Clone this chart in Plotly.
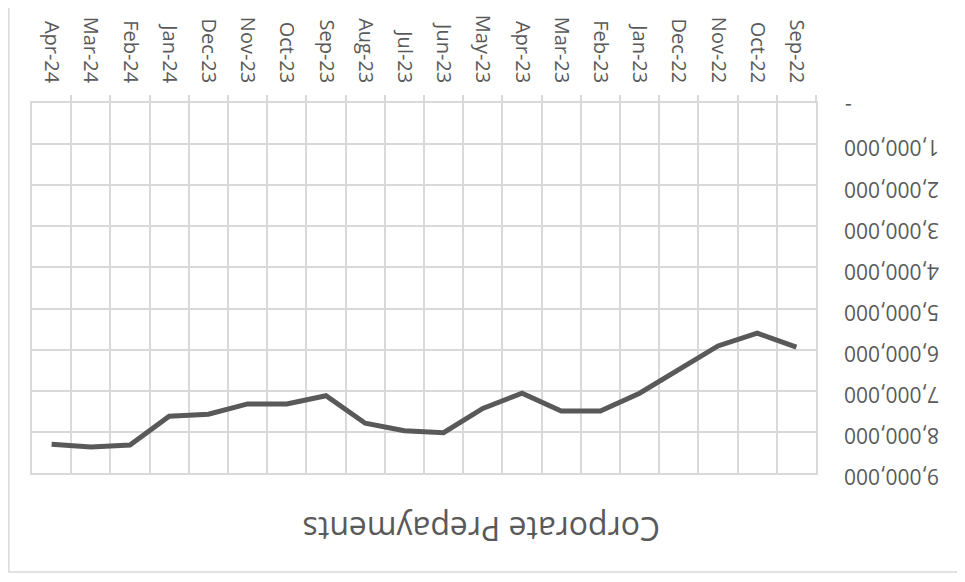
import plotly.graph_objects as go

months = ["Sep-22", "Oct-22", "Nov-22", "Dec-22", "Jan-23", "Feb-23", "Mar-23", "Apr-23",
          "May-23", "Jun-23", "Jul-23", "Aug-23", "Sep-23", "Oct-23", "Nov-23", "Dec-23",
          "Jan-24", "Feb-24", "Mar-24", "Apr-24"]
prepayments = [5940000, 5600000, 5910000, 6500000, 7060000, 7490000, 7490000, 7060000,
               7430000, 8020000, 7970000, 7790000, 7120000, 7320000, 7320000, 7570000,
               7620000, 8320000, 8370000, 8300000]
tick_vals = [0, 1000000, 2000000, 3000000, 4000000, 5000000, 6000000, 7000000, 8000000, 9000000]
# zero shows as an accounting dash, padded so it sits where Excel puts it
tick_text = ["\u00a0" * 16 + "-", "1,000,000", "2,000,000", "3,000,000", "4,000,000", "5,000,000",
             "6,000,000", "7,000,000", "8,000,000", "9,000,000"]

_TEXT = "#595959"
_GRID = "#d9d9d9"
_FONT = "Open Sans, Noto Sans, sans-serif"

fig = go.Figure(go.Scatter(
    x=months, y=prepayments, mode="lines",
    line=dict(color=_TEXT, width=5), hoverinfo="skip",
))

# whole chart is shown rotated by 180 degrees
fig.update_layout(
    width=957, height=574,
    paper_bgcolor="white", plot_bgcolor="white",
    margin=dict(l=24, r=149, t=95, b=109),
    showlegend=False,
    font=dict(family=_FONT, size=21, color=_TEXT),
    xaxis=dict(
        type="category", range=[len(months) - 0.5, -0.5], side="top", tickangle=90,
        tickson="boundaries", ticks="outside", ticklen=6, tickcolor=_GRID, tickwidth=1.5,
        ticklabelstandoff=11,
        showgrid=True, gridcolor=_GRID, gridwidth=1.5, automargin=False,
        showline=True, linecolor=_GRID, linewidth=1.5, mirror=True,
        zeroline=False, tickfont=dict(size=20, color=_TEXT),
    ),
    yaxis=dict(
        range=[9000000, 0], side="right", tickangle=180, automargin=False,
        tickvals=tick_vals, ticktext=tick_text, ticks="",
        ticklabelstandoff=117, ticklabelshift=-10,
        showgrid=True, gridcolor=_GRID, gridwidth=1.5,
        showline=True, linecolor=_GRID, linewidth=1.5, mirror=True,
        zeroline=False, tickfont=dict(size=21, color=_TEXT),
    ),
    annotations=[dict(
        text="Corporate Prepayments", xref="paper", yref="paper",
        x=0.574, y=-0.151, xanchor="center", yanchor="middle",
        showarrow=False, textangle=180,
        font=dict(family=_FONT, size=32, color=_TEXT),
    )],
    shapes=[dict(
        type="rect", xref="paper", yref="paper",
        x0=-0.0295, x1=1.186, y0=-0.2676, y1=1.3,
        line=dict(color=_GRID, width=1.5), layer="below",
    )],
)

fig.write_html("out.html")
